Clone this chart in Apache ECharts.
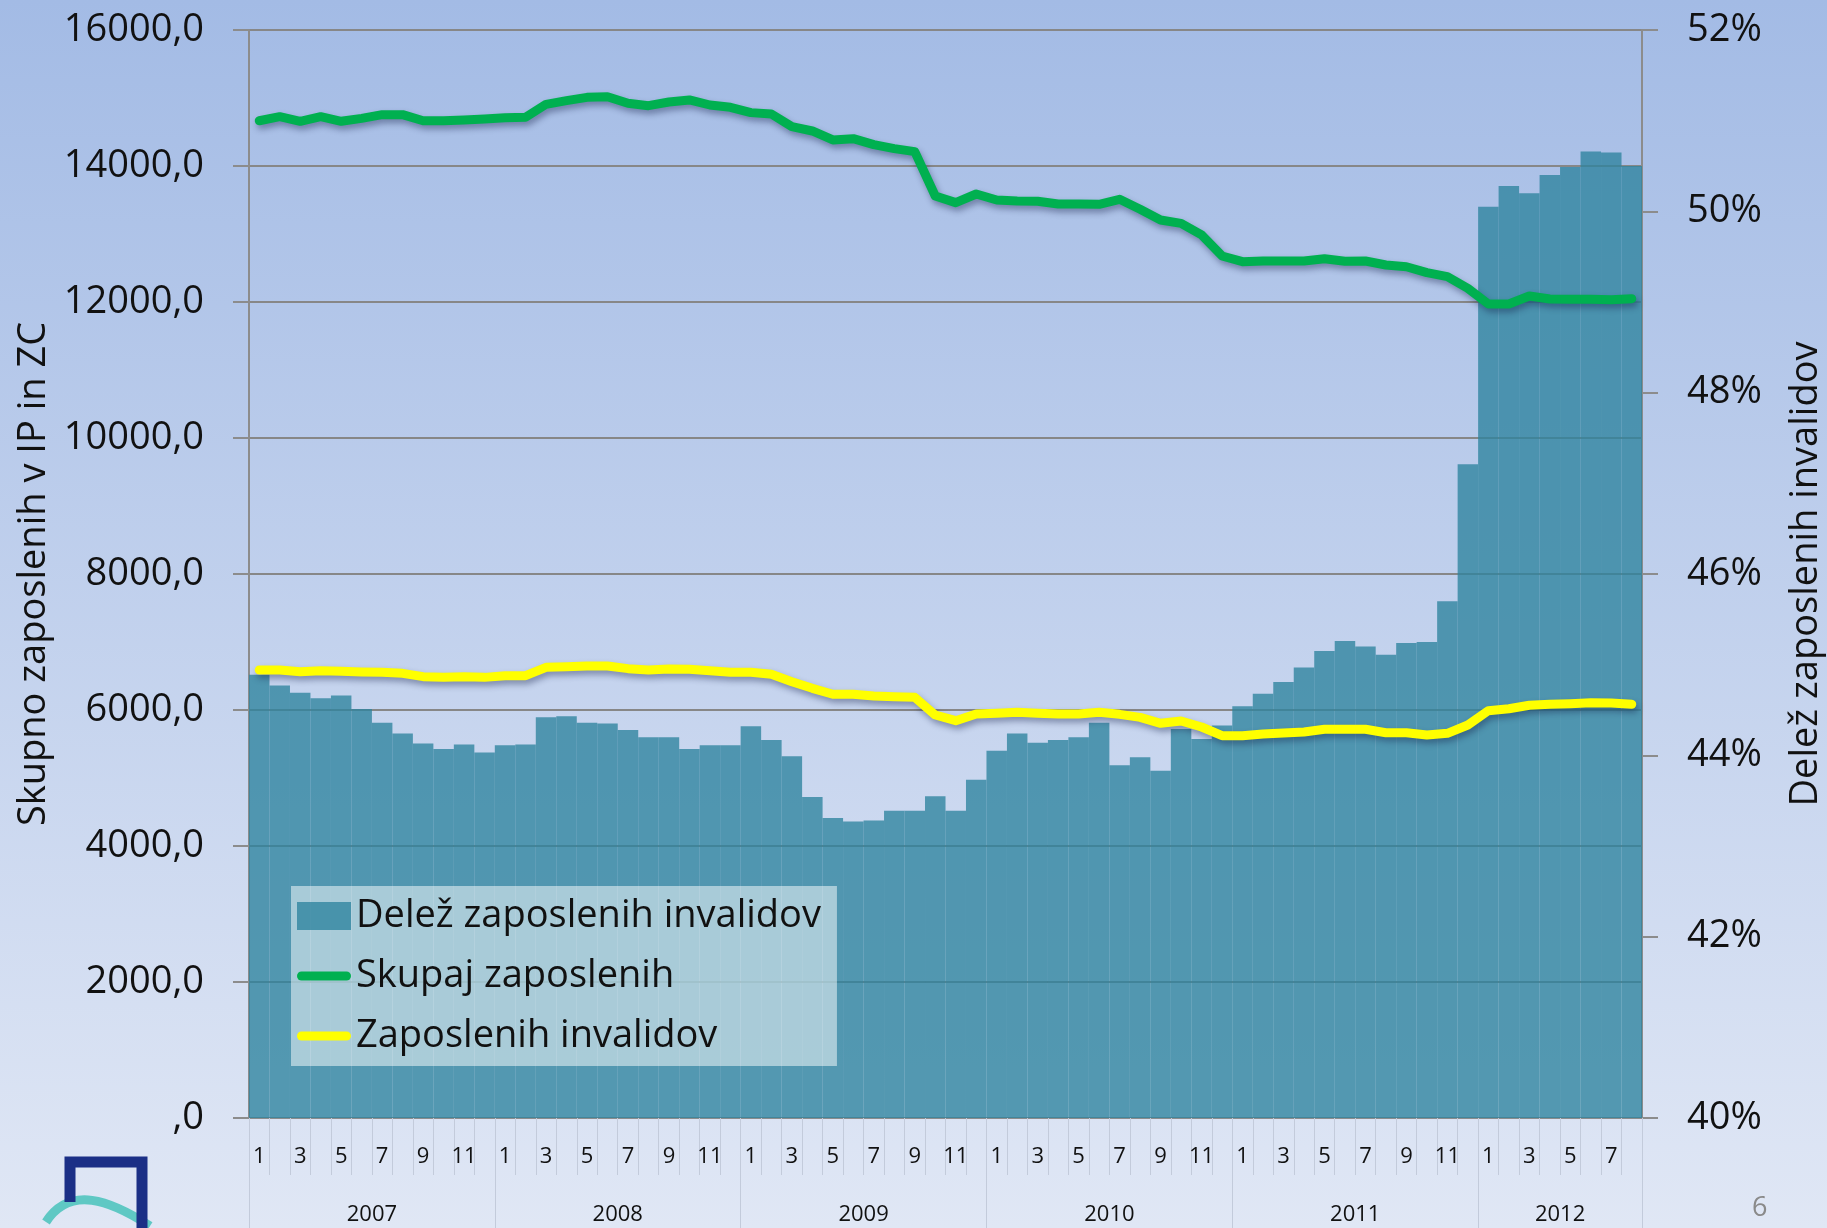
<!DOCTYPE html>
<html style="height: 100%">
<head>
    <meta charset="utf-8">
    <script type="text/javascript" src="https://cdn.jsdelivr.net/npm/echarts@6.0.0/dist/echarts.min.js"></script>
</head>
<body style="height: 100%; margin: 0;">
<div id="main" style="width: 1827px; height: 1228px;"></div>
<script>
// leta in število mesecev v posameznem letu
var years = ['2007', '2008', '2009', '2010', '2011', '2012'];
var monthsInYear = [12, 12, 12, 12, 12, 8];

// Delež zaposlenih invalidov (%)
var delez = [
    44.89, 44.77, 44.69, 44.63, 44.66, 44.51, 44.36, 44.24, 44.13, 44.07, 44.12, 44.03,
    44.11, 44.12, 44.42, 44.43, 44.36, 44.35, 44.28, 44.20, 44.20, 44.07, 44.11, 44.11,
    44.32, 44.17, 43.99, 43.54, 43.31, 43.27, 43.28, 43.39, 43.39, 43.55, 43.39, 43.73,
    44.05, 44.24, 44.14, 44.17, 44.20, 44.36, 43.89, 43.98, 43.83, 44.29, 44.18, 44.33,
    44.54, 44.68, 44.81, 44.97, 45.15, 45.26, 45.20, 45.11, 45.24, 45.25, 45.70, 47.21,
    50.05, 50.28, 50.20, 50.40, 50.49, 50.66, 50.65, 50.50
];

// Skupaj zaposlenih
var skupaj = [
    14666, 14726, 14657, 14726, 14657, 14701, 14755, 14755, 14666, 14666, 14677, 14691,
    14711, 14716, 14907, 14961, 15010, 15019, 14922, 14887, 14941, 14971, 14897, 14863,
    14785, 14765, 14578, 14515, 14383, 14402, 14314, 14255, 14211, 13559, 13461, 13588,
    13500, 13485, 13481, 13441, 13441, 13436, 13510, 13363, 13206, 13157, 12986, 12677,
    12593, 12603, 12603, 12603, 12637, 12598, 12603, 12544, 12519, 12431, 12372, 12201,
    11971, 11971, 12088, 12044, 12040, 12040, 12034, 12049
];

// Zaposlenih invalidov
var invalidi = [
    6588, 6588, 6563, 6578, 6569, 6559, 6554, 6539, 6490, 6480, 6490, 6480,
    6505, 6505, 6628, 6637, 6647, 6647, 6608, 6588, 6603, 6598, 6578, 6554,
    6554, 6525, 6416, 6319, 6231, 6231, 6206, 6196, 6187, 5926, 5843, 5941,
    5951, 5966, 5951, 5941, 5941, 5966, 5936, 5892, 5804, 5838, 5750, 5622,
    5622, 5647, 5662, 5677, 5716, 5716, 5716, 5666, 5666, 5632, 5657, 5779,
    5990, 6019, 6069, 6084, 6093, 6108, 6103, 6084
];

var months = [];
var yearAt = {};
var yearStart = {};
years.forEach(function (y, k) {
    yearStart[months.length] = true;
    yearAt[months.length + Math.floor(monthsInYear[k] / 2)] = y;
    for (var m = 1; m <= monthsInYear[k]; m++) {
        months.push(String(m));
    }
});

var font = '"Open Sans", "Noto Sans", sans-serif';
var bandW = (1642 - 249) / months.length;
// debela zaobljena črta za legendo
var lineIcon = 'path://M5,0 L55,0 A5,5 0 0 1 55,10 L5,10 A5,5 0 0 1 5,0 Z';

var chartDom = document.getElementById('main');
var myChart = echarts.init(chartDom);
var option = {
    backgroundColor: {
        type: 'linear', x: 0, y: 0, x2: 0, y2: 1,
        colorStops: [
            { offset: 0, color: '#A3BBE5' },
            { offset: 1, color: '#E0E7F5' }
        ]
    },
    animation: false,
    textStyle: { fontFamily: font },
    grid: { left: 249, right: 185, top: 30, bottom: 110, outerBoundsMode: 'none' },
    legend: {
        orient: 'vertical',
        left: 291,
        top: 886,
        padding: [11, 16, 11, 6],
        itemGap: 22,
        itemWidth: 54,
        itemHeight: 28,
        backgroundColor: 'rgba(255,255,255,0.5)',
        textStyle: { fontSize: 38, color: '#111', fontFamily: font },
        data: [
            { name: 'Delež zaposlenih invalidov', icon: 'rect' },
            { name: 'Skupaj zaposlenih', icon: lineIcon },
            { name: 'Zaposlenih invalidov', icon: lineIcon }
        ]
    },
    xAxis: [
        {
            type: 'category',
            data: months,
            position: 'bottom',
            axisLine: { show: true, lineStyle: { color: '#8C8C8C', width: 2 } },
            axisTick: { show: true, interval: 0, length: 57, lineStyle: { color: '#C3CBDB', width: 1 } },
            axisLabel: { interval: 1, fontSize: 22, color: '#111', margin: 28, fontFamily: font }
        },
        {
            type: 'category',
            data: months,
            position: 'bottom',
            axisLine: { show: false },
            axisTick: {
                show: true, length: 110,
                interval: function (i) { return !!yearStart[i]; },
                lineStyle: { color: '#C3CBDB', width: 1 }
            },
            axisLabel: {
                interval: 0, fontSize: 22, color: '#111', margin: 86, fontFamily: font,
                padding: [0, bandW, 0, 0],
                formatter: function (v, i) { return yearAt[i] || ''; }
            }
        }
    ],
    yAxis: [
        {
            type: 'value',
            min: 0, max: 16000, interval: 2000,
            name: 'Skupno zaposlenih v IP in ZC',
            nameLocation: 'middle',
            nameRotate: 90,
            nameGap: 191,
            nameTextStyle: { fontSize: 38, color: '#111', fontFamily: font },
            axisLine: { show: true, lineStyle: { color: '#8C8C8C', width: 2 } },
            axisTick: { show: true, length: 16, lineStyle: { color: '#8C8C8C', width: 2 } },
            splitLine: { show: true, lineStyle: { color: '#878787', width: 2 } },
            axisLabel: {
                fontSize: 38, color: '#111', margin: 45, fontFamily: font,
                formatter: function (v) { return v === 0 ? ',0' : v + ',0'; }
            }
        },
        {
            type: 'value',
            min: 40, max: 52, interval: 2,
            position: 'right',
            name: 'Delež zaposlenih invalidov',
            nameLocation: 'middle',
            nameRotate: 90,
            nameGap: 145,
            nameTextStyle: { fontSize: 38, color: '#111', fontFamily: font },
            axisLine: { show: true, lineStyle: { color: '#8C8C8C', width: 2 } },
            axisTick: { show: true, length: 16, lineStyle: { color: '#8C8C8C', width: 2 } },
            splitLine: { show: false },
            axisLabel: { fontSize: 38, color: '#111', margin: 45, fontFamily: font, formatter: '{value}%' }
        }
    ],
    series: [
        {
            name: 'Delež zaposlenih invalidov',
            type: 'bar',
            xAxisIndex: 0,
            yAxisIndex: 1,
            barCategoryGap: '0%',
            data: delez,
            itemStyle: { color: 'rgba(45,131,157,0.78)' }
        },
        {
            name: 'Skupaj zaposlenih',
            type: 'line',
            yAxisIndex: 0,
            data: skupaj,
            symbol: 'none',
            z: 5,
            lineStyle: {
                color: '#00B050', width: 9, cap: 'round', join: 'round',
                shadowColor: 'rgba(20,30,70,0.4)', shadowBlur: 6, shadowOffsetX: 2, shadowOffsetY: 4
            },
            itemStyle: { color: '#00B050' }
        },
        {
            name: 'Zaposlenih invalidov',
            type: 'line',
            yAxisIndex: 0,
            data: invalidi,
            symbol: 'none',
            z: 6,
            lineStyle: {
                color: '#FFFF00', width: 9, cap: 'round', join: 'round',
                shadowColor: 'rgba(20,30,70,0.4)', shadowBlur: 6, shadowOffsetX: 2, shadowOffsetY: 4
            },
            itemStyle: { color: '#FFFF00' }
        }
    ],
    graphic: [
        // številka strani
        {
            type: 'text', left: 1752, top: 1195,
            style: { text: '6', fontSize: 27, fill: '#8A8A8A', fontFamily: font }
        },
        // logotip spodaj levo
        {
            type: 'bezierCurve',
            shape: { x1: 46, y1: 1222, cpx1: 70, cpy1: 1185, cpx2: 110, cpy2: 1200, x2: 150, y2: 1226 },
            style: { stroke: '#5FC8C4', lineWidth: 9, fill: null }
        },
        {
            type: 'polyline',
            shape: { points: [[70, 1202], [70, 1162], [142, 1162], [142, 1228]] },
            style: { stroke: '#1B2F86', lineWidth: 11, fill: null }
        }
    ]
};

myChart.setOption(option);
</script>
</body>
</html>
